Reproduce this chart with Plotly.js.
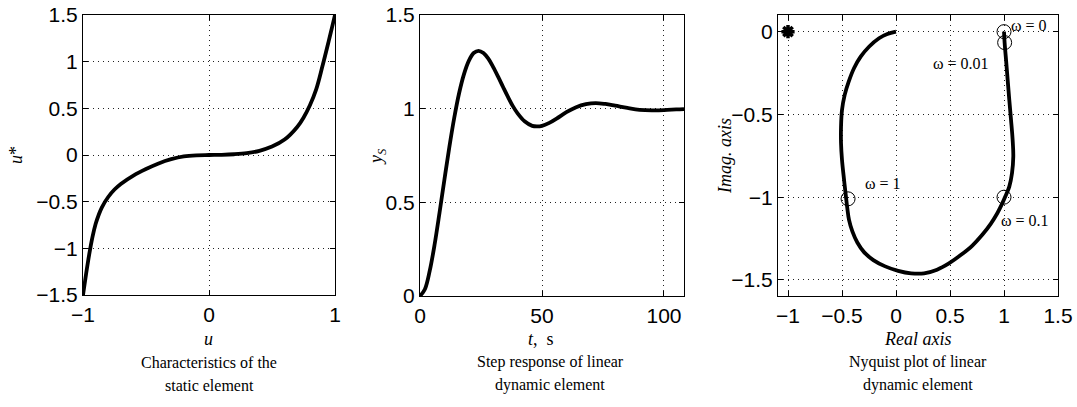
<!DOCTYPE html>
<html>
<head>
<meta charset="utf-8">
<script src="https://cdn.plot.ly/plotly-3.0.1.min.js"></script>
<style>html,body{margin:0;padding:0;background:#fff;}#chart{width:1077px;height:407px;}</style>
</head>
<body>
<div id="chart"></div>
<script>
// ---- Static element characteristic ----
const staticU = [-1, -0.975, -0.95, -0.925, -0.9, -0.875, -0.85, -0.8, -0.75, -0.7, -0.6, -0.5, -0.4, -0.3, -0.2, -0.1, 0, 0.1, 0.2, 0.3, 0.4, 0.5, 0.6, 0.7, 0.75, 0.8, 0.85, 0.9, 0.95, 0.975, 1];
const staticUstar = [-1.5, -1.27, -1.06, -0.88, -0.74, -0.64, -0.56, -0.45, -0.37, -0.31, -0.22, -0.15, -0.09, -0.045, -0.015, -0.003, 0, 0.002, 0.008, 0.02, 0.045, 0.09, 0.165, 0.3, 0.4, 0.53, 0.7, 0.95, 1.22, 1.36, 1.5];

// ---- Step response ----
const stepT = [0, 2, 4, 6, 8, 10, 12, 14, 16, 18, 20, 22, 24, 26, 28, 30, 32, 34, 36, 38, 40, 43, 46, 48, 50, 53, 56, 60, 64, 68, 72, 76, 80, 85, 90, 95, 100, 105, 108.2];
const stepY = [0, 0.036, 0.135, 0.276, 0.444, 0.621, 0.793, 0.949, 1.081, 1.183, 1.255, 1.297, 1.309, 1.297, 1.267, 1.222, 1.171, 1.117, 1.064, 1.015, 0.975, 0.931, 0.908, 0.905, 0.908, 0.924, 0.947, 0.981, 1.008, 1.024, 1.030, 1.025, 1.016, 1.004, 0.994, 0.991, 0.992, 0.996, 0.998];

// ---- Nyquist plot ----
const nyqRe = [1.000, 1.006, 1.019, 1.034, 1.049, 1.065, 1.080, 1.086, 1.074, 1.049, 1.015, 0.985, 0.938, 0.877, 0.799, 0.707, 0.599, 0.49, 0.38, 0.26, 0.14, 0.02, -0.10, -0.21, -0.296, -0.358, -0.404, -0.435, -0.451, -0.463, -0.481, -0.500, -0.509, -0.509, -0.500, -0.475, -0.438, -0.389, -0.327, -0.250, -0.157, -0.080, 0];
const nyqIm = [0, -0.070, -0.171, -0.292, -0.412, -0.533, -0.654, -0.755, -0.855, -0.936, -0.992, -1.036, -1.097, -1.161, -1.227, -1.292, -1.350, -1.400, -1.438, -1.460, -1.460, -1.445, -1.418, -1.380, -1.332, -1.274, -1.207, -1.137, -1.066, -1.000, -0.895, -0.775, -0.674, -0.573, -0.473, -0.382, -0.302, -0.221, -0.151, -0.091, -0.040, -0.014, 0];
const freqLabels = ['ω = 0', 'ω = 0.01', 'ω = 0.1', 'ω = 1'];
const freqRe = [1, 1.006, 1, -0.444];
const freqIm = [0, -0.066, -1, -1.01];
const criticalRe = [-1];
const criticalIm = [0];

const captions = [
  ['Characteristics of the', 'static element'],
  ['Step response of linear', 'dynamic element'],
  ['Nyquist plot of linear', 'dynamic element']
];

const W = 1077, H = 407;
const px = v => v / W;
const py = v => 1 - v / H;

const tickFont = {family: '"Liberation Sans", Arial, sans-serif', size: 21, color: '#000'};
const serif = '"Liberation Serif", "Times New Roman", serif';

function axisBase(extra) {
  return Object.assign({
    showline: true, linecolor: '#000', linewidth: 1, mirror: 'ticks',
    ticks: 'inside', ticklen: 5, tickcolor: '#000', tickwidth: 1,
    showgrid: true, gridcolor: '#222', gridwidth: 1, griddash: '1px,4px',
    zeroline: false, tickfont: tickFont, fixedrange: true
  }, extra);
}

const lineStyle = {color: '#000', width: 3.8, shape: 'spline', smoothing: 1};

const traces = [
  {x: staticU, y: staticUstar, xaxis: 'x', yaxis: 'y', mode: 'lines', line: lineStyle, hoverinfo: 'skip'},
  {x: stepT, y: stepY, xaxis: 'x2', yaxis: 'y2', mode: 'lines', line: lineStyle, hoverinfo: 'skip'},
  {x: nyqRe, y: nyqIm, xaxis: 'x3', yaxis: 'y3', mode: 'lines', line: lineStyle, hoverinfo: 'skip'},
  {x: freqRe, y: freqIm, xaxis: 'x3', yaxis: 'y3', mode: 'markers',
   marker: {symbol: 'circle-open', size: 14, color: '#000', line: {width: 1, color: '#000'}}, hoverinfo: 'skip'},
  {x: criticalRe, y: criticalIm, xaxis: 'x3', yaxis: 'y3', mode: 'markers',
   marker: {symbol: 'asterisk-open', size: 11, color: '#000', line: {width: 3.5, color: '#000'}}, hoverinfo: 'skip'}
];

const ann = [];
function addText(x, y, text, opts) {
  ann.push(Object.assign({x: x, y: y, xref: 'paper', yref: 'paper', text: text, showarrow: false,
    xanchor: 'center', yanchor: 'middle', font: {family: serif, size: 18, color: '#000'}}, opts || {}));
}
// axis titles
addText(px(16), py(155), '<i>u</i>*', {textangle: -90});
addText(px(208), py(339), '<i>u</i>');
addText(px(377), py(157), '<i>y</i><sub><i>S</i></sub>', {textangle: -90});
addText(px(541), py(339), '<i>t</i>,  s');
addText(px(725), py(156), '<i>Imag. axis</i>', {textangle: -90});
addText(px(917), py(339), '<i>Real axis</i>');
// captions
const capX = [209, 550, 918];
captions.forEach((c, i) => {
  addText(px(capX[i]), py(362), c[0], {font: {family: serif, size: 16, color: '#000'}});
  addText(px(capX[i]), py(385), c[1], {font: {family: serif, size: 16, color: '#000'}});
});
// frequency labels
const labPos = [[1.05, 0.04, 'left'], [0.6, -0.19, 'center'], [1.19, -1.14, 'center'], [-0.12, -0.915, 'center']];
freqLabels.forEach((t, i) => {
  ann.push({x: labPos[i][0], y: labPos[i][1], xref: 'x3', yref: 'y3', text: t, showarrow: false,
    xanchor: labPos[i][2], yanchor: 'middle', font: {family: serif, size: 16, color: '#000'}});
});

const layout = {
  width: W, height: H, margin: {l: 0, r: 0, t: 0, b: 0},
  paper_bgcolor: '#fff', plot_bgcolor: '#fff', showlegend: false,
  xaxis: axisBase({domain: [px(83), px(335)], range: [-1, 1], tickvals: [-1, 0, 1], anchor: 'y', ticklabelstandoff: 1}),
  yaxis: axisBase({domain: [py(295), py(15)], range: [-1.5, 1.5], tickvals: [-1.5, -1, -0.5, 0, 0.5, 1, 1.5], anchor: 'x'}),
  xaxis2: axisBase({domain: [px(420), px(684)], range: [0, 108.2], tickvals: [0, 50, 100], anchor: 'y2', ticklabelstandoff: 1}),
  yaxis2: axisBase({domain: [py(296), py(15)], range: [0, 1.5], tickvals: [0, 0.5, 1, 1.5], anchor: 'x2'}),
  xaxis3: axisBase({domain: [px(778), px(1058)], range: [-1.0926, 1.5], tickvals: [-1, -0.5, 0, 0.5, 1, 1.5], anchor: 'y3', ticklabelstandoff: 1}),
  yaxis3: axisBase({domain: [py(296), py(15)], range: [-1.597, 0.1006], tickvals: [-1.5, -1, -0.5, 0], anchor: 'x3'}),
  annotations: ann
};

Plotly.newPlot('chart', traces, layout, {displayModeBar: false, staticPlot: true});
</script>
</body>
</html>
